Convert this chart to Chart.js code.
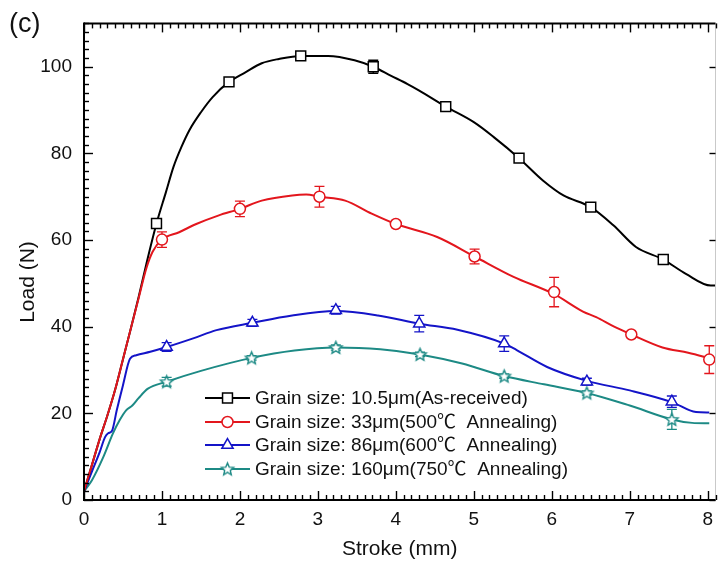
<!DOCTYPE html>
<html>
<head>
<meta charset="utf-8">
<script src="https://cdn.jsdelivr.net/npm/chart.js@4.4.1/dist/chart.umd.min.js"></script>
<style>
  html, body { margin: 0; padding: 0; background: #fff; }
  #wrap { width: 724px; height: 568px; }
</style>
</head>
<body>
<div id="wrap"><canvas id="loadChart" width="724" height="568"></canvas></div>
<script>
// ---- data ----
const seriesLabels = [
    'Grain size: 10.5μm(As-received)',
    'Grain size: 33μm(500℃  Annealing)',
    'Grain size: 86μm(600℃  Annealing)',
    'Grain size: 160μm(750℃  Annealing)'
];
const xTicks = [0, 1, 2, 3, 4, 5, 6, 7, 8];
const yTicks = [0, 20, 40, 60, 80, 100];

// 10.5 um, as received
const blackStroke = [0, 0.1, 0.2, 0.3, 0.4, 0.5, 0.6, 0.7, 0.8, 0.93, 1.05, 1.15, 1.25, 1.35, 1.5, 1.65, 1.86, 2.07, 2.28, 2.5, 2.78, 3.13, 3.47, 3.71, 3.94, 4.15, 4.3, 4.64, 5.0, 5.26, 5.58, 5.89, 6.15, 6.5, 6.79, 7.08, 7.43, 7.72, 8.04, 8.1];
const blackLoad   = [2, 8, 14, 19.5, 25.5, 32.5, 39.5, 46.8, 54.5, 63.8, 71, 77, 81.5, 85.3, 89.5, 93, 96.5, 98.7, 100.8, 101.8, 102.5, 102.5, 101.5, 100, 97.9, 96, 94.5, 90.8, 87.2, 83.7, 78.9, 73.7, 70.3, 67.6, 63.4, 58.4, 55.5, 52.2, 49.5, 49.5];
const blackMarkX  = [0.93, 1.86, 2.78, 3.71, 4.64, 5.58, 6.5, 7.43];
const blackMarkY  = [63.8, 96.5, 102.5, 100, 90.8, 78.9, 67.6, 55.5];
const blackErr    = [0, 0, 1.0, 1.5, 0, 0, 0, 0];

// 33 um, 500 C
const redStroke = [0, 0.1, 0.2, 0.3, 0.4, 0.5, 0.6, 0.7, 0.8, 0.88, 1.0, 1.22, 1.44, 1.73, 2.0, 2.28, 2.67, 2.85, 3.02, 3.35, 3.69, 4.0, 4.53, 5.01, 5.51, 6.03, 6.4, 6.57, 6.8, 7.02, 7.42, 7.75, 8.05];
const redLoad   = [2, 8, 14, 19.5, 25.5, 32.5, 39.5, 46.5, 53.5, 57.3, 60.1, 61.8, 63.7, 65.7, 67.2, 69.1, 70.3, 70.5, 70.0, 69.1, 66.1, 63.7, 60.7, 56.2, 51.5, 47.5, 43.5, 42.2, 40, 38.2, 35.2, 34, 32.6];
const redMarkX  = [1.0, 2.0, 3.02, 4.0, 5.01, 6.03, 7.02, 8.02];
const redMarkY  = [60.1, 67.2, 70.0, 63.7, 56.2, 48.0, 38.2, 32.4];
const redErr    = [1.8, 1.8, 2.4, 0, 1.7, 3.4, 0, 3.2];

// 86 um, 600 C
const blueStroke = [0, 0.1, 0.2, 0.27, 0.31, 0.36, 0.42, 0.5, 0.59, 0.67, 0.85, 1.06, 1.4, 1.7, 2.16, 2.67, 3.23, 3.77, 4.3, 4.79, 5.39, 5.55, 5.94, 6.45, 7.0, 7.54, 7.85, 8.02];
const blueLoad   = [2, 6.5, 11, 14.5, 15.4, 16, 20.7, 26.5, 32.6, 33.4, 34.2, 35.3, 37.3, 39.2, 40.9, 42.6, 43.6, 42.6, 40.7, 39.3, 36.1, 34.6, 30.7, 27.5, 25.3, 22.6, 20.3, 20.2];
const blueMarkX  = [1.06, 2.16, 3.23, 4.3, 5.39, 6.45, 7.54];
const blueMarkY  = [35.3, 40.9, 43.8, 40.7, 36.1, 27.3, 22.7];
const blueErr    = [1.0, 0.8, 0.9, 1.9, 1.8, 0.8, 1.3];

// 160 um, 750 C
const tealStroke = [0, 0.1, 0.25, 0.37, 0.46, 0.54, 0.62, 0.7, 0.82, 1.06, 1.5, 2.15, 2.7, 3.23, 3.8, 4.31, 4.85, 5.39, 5.9, 6.45, 7.0, 7.54, 7.8, 8.02];
const tealLoad   = [2, 4.5, 10, 15.3, 18.5, 20.7, 21.8, 23.5, 25.7, 27.3, 29.8, 32.8, 34.5, 35.2, 34.8, 33.6, 31.5, 28.6, 26.7, 24.7, 21.8, 18.6, 17.8, 17.7];
const tealMarkX  = [1.06, 2.15, 3.23, 4.31, 5.39, 6.45, 7.54];
const tealMarkY  = [27.3, 32.8, 35.2, 33.6, 28.6, 24.7, 18.6];
const tealErr    = [1.0, 0.5, 0.6, 0.5, 0.5, 0.5, 2.3];

// ---- styling ----
const black = '#000000';
const red = '#e3161d';
const blue = '#1414c8';
const teal = '#1d8a85';
const fontFamily = "'Liberation Sans', Arial, 'Noto Sans CJK SC', sans-serif";
const textColor = '#111111';

const pairs = (xs, ys) => xs.map((x, i) => ({ x: x, y: ys[i] }));

function starImage(color, r) {
    const size = Math.ceil(r * 2 + 4);
    const c = document.createElement('canvas');
    c.width = c.height = size;
    const g = c.getContext('2d');
    const cx = size / 2, cy = size / 2 + 0.5;
    g.beginPath();
    for (let i = 0; i < 10; i++) {
        const rr = i % 2 ? r * 0.45 : r;
        const a = -Math.PI / 2 + i * Math.PI / 5;
        g.lineTo(cx + rr * Math.cos(a), cy + rr * Math.sin(a));
    }
    g.closePath();
    g.fillStyle = '#fff';
    g.fill();
    g.strokeStyle = color;
    g.lineWidth = 1.4;
    g.stroke();
    return c;
}
const tealStar = starImage(teal, 6.5);

const markerStyles = [
    { color: black, pointStyle: 'rect', radius: 7 },
    { color: red, pointStyle: 'circle', radius: 5.5 },
    { color: blue, pointStyle: 'triangle', radius: 6.5 },
    { color: teal, pointStyle: tealStar, radius: 6.5 }
];

function curve(xs, ys, color, order) {
    return {
        data: pairs(xs, ys),
        showLine: true,
        borderColor: color,
        borderWidth: 2,
        pointRadius: 0,
        cubicInterpolationMode: 'monotone',
        order: order
    };
}
function markers(xs, ys, errs, k) {
    const m = markerStyles[k];
    return {
        data: pairs(xs, ys),
        errors: errs,
        showLine: false,
        pointStyle: m.pointStyle,
        pointRadius: m.radius,
        pointBorderColor: m.color,
        pointBackgroundColor: '#fff',
        pointBorderWidth: 1.5,
        borderColor: m.color,
        order: 0
    };
}

// error bars, drawn just before each marker set
const errorBars = {
    id: 'errorBars',
    beforeDatasetDraw(chart, args) {
        const ds = chart.data.datasets[args.index];
        if (!ds.errors) return;
        const { ctx, scales: { x, y } } = chart;
        ctx.save();
        ctx.strokeStyle = ds.borderColor;
        ctx.lineWidth = 1.3;
        ds.data.forEach((p, i) => {
            const e = ds.errors[i];
            if (!e) return;
            const px = x.getPixelForValue(p.x);
            const y1 = y.getPixelForValue(p.y + e);
            const y2 = y.getPixelForValue(p.y - e);
            ctx.beginPath();
            ctx.moveTo(px, y1); ctx.lineTo(px, y2);
            ctx.moveTo(px - 5, y1); ctx.lineTo(px + 5, y1);
            ctx.moveTo(px - 5, y2); ctx.lineTo(px + 5, y2);
            ctx.stroke();
        });
        ctx.restore();
    }
};

// box frame with inward ticks, y title, panel letter and legend
const frame = {
    id: 'frame',
    afterDraw(chart) {
        const { ctx, chartArea: a, scales: { x, y } } = chart;
        const seg = (x1, y1, x2, y2) => { ctx.beginPath(); ctx.moveTo(x1, y1); ctx.lineTo(x2, y2); ctx.stroke(); };
        ctx.save();
        ctx.strokeStyle = '#c9c9c9';
        ctx.lineWidth = 1;
        seg(a.right, a.top, a.right, a.bottom);
        ctx.strokeStyle = black;
        ctx.lineWidth = 2;
        seg(a.left, a.top - 1, a.left, a.bottom + 1);
        seg(a.left, a.bottom, a.right, a.bottom);
        seg(a.left, a.top, a.right, a.top);
        ctx.lineWidth = 1.4;
        for (let i = 0; i <= 81; i++) {
            const px = Math.round(x.getPixelForValue(i / 10)) + 0.5;
            const len = i % 10 === 0 ? 9 : 5;
            seg(px, a.bottom, px, a.bottom - len);
            seg(px, a.top, px, a.top + len);
        }
        for (let v = 0; v <= 110; v += 2) {
            const py = Math.round(y.getPixelForValue(v)) + 0.5;
            const len = v % 20 === 0 ? 9 : 5;
            seg(a.left, py, a.left + len, py);
            if (v % 20 === 0) seg(a.right, py, a.right - 6, py);
        }

        ctx.fillStyle = textColor;
        ctx.textBaseline = 'middle';
        ctx.textAlign = 'center';
        ctx.font = '21px ' + fontFamily;
        ctx.save();
        ctx.translate(28, 282);
        ctx.rotate(-Math.PI / 2);
        ctx.fillText('Load (N)', 0, 0);
        ctx.restore();

        ctx.textAlign = 'left';
        ctx.font = '27px ' + fontFamily;
        ctx.fillText('(c)', 9, 25);

        // legend
        const rows = [398, 422, 445, 469];
        ctx.font = '19px ' + fontFamily;
        seriesLabels.forEach((label, k) => {
            const m = markerStyles[k];
            const ry = rows[k];
            ctx.strokeStyle = m.color;
            ctx.lineWidth = 2;
            seg(205, ry, 250, ry);
            ctx.fillStyle = '#fff';
            ctx.lineWidth = 1.5;
            Chart.helpers.drawPoint(ctx, { pointStyle: m.pointStyle, radius: m.radius, rotation: 0, borderWidth: 1.5 }, 227.5, ry);
            ctx.fillStyle = textColor;
            ctx.fillText(label, 255, ry + 1);
        });
        ctx.restore();
    }
};

new Chart(document.getElementById('loadChart'), {
    type: 'scatter',
    data: {
        datasets: [
            markers(blackMarkX, blackMarkY, blackErr, 0),
            markers(redMarkX, redMarkY, redErr, 1),
            markers(blueMarkX, blueMarkY, blueErr, 2),
            markers(tealMarkX, tealMarkY, tealErr, 3),
            curve(redStroke, redLoad, red, 1),
            curve(blackStroke, blackLoad, black, 2),
            curve(blueStroke, blueLoad, blue, 3),
            curve(tealStroke, tealLoad, teal, 4)
        ]
    },
    options: {
        responsive: false,
        devicePixelRatio: 1,
        animation: false,
        layout: { padding: { top: 22, right: 4, left: 0, bottom: 0 } },
        plugins: {
            legend: { display: false },
            tooltip: { enabled: false }
        },
        scales: {
            x: {
                type: 'linear',
                min: 0,
                max: 8.1,
                afterBuildTicks: s => { s.ticks = xTicks.map(v => ({ value: v })); },
                afterFit: s => { s.height = 68; },
                grid: { display: false, drawTicks: false },
                border: { display: false },
                ticks: { color: textColor, font: { family: fontFamily, size: 19 }, padding: 8, maxRotation: 0 },
                title: { display: true, text: 'Stroke (mm)', color: textColor, font: { family: fontFamily, size: 21 }, padding: { top: 0, bottom: 6 } }
            },
            y: {
                type: 'linear',
                min: 0,
                max: 110,
                afterBuildTicks: s => { s.ticks = yTicks.map(v => ({ value: v })); },
                afterFit: s => { s.width = 84; },
                grid: { display: false, drawTicks: false },
                border: { display: false },
                ticks: { color: textColor, font: { family: fontFamily, size: 19 }, padding: 12 }
            }
        }
    },
    plugins: [errorBars, frame]
});
</script>
</body>
</html>
